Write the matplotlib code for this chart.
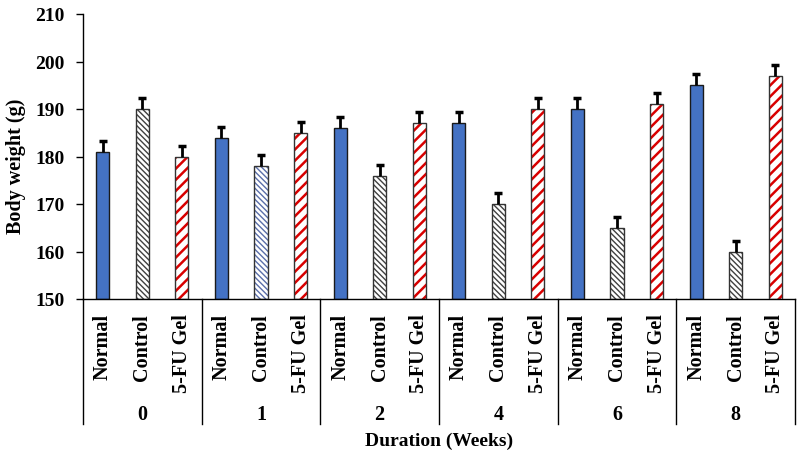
import numpy as np
import matplotlib
matplotlib.use("Agg")
import matplotlib.pyplot as plt
import matplotlib.transforms as mtransforms

# Data
weeks = ["0", "1", "2", "4", "6", "8"]
groups = ["Normal", "Control", "5-FU Gel"]
normal = [181, 184, 186, 187, 190, 195]
control = [190, 178, 176, 170, 165, 160]
fu_gel = [180, 185, 187, 190, 191, 197]
normal_err = [2.3, 2.3, 2.3, 2.3, 2.3, 2.3]
control_err = [2.3, 2.3, 2.3, 2.3, 2.3, 2.3]
fu_err = [2.3, 2.3, 2.3, 2.3, 2.3, 2.3]

plt.rcParams['font.family'] = ['Liberation Serif', 'DejaVu Serif']
plt.rcParams['font.weight'] = 'bold'

fig = plt.figure(figsize=(7.98, 4.6), dpi=100)
ax = fig.add_axes([83 / 798, 1 - 300 / 460, (795 - 83) / 798, (300 - 15) / 460])

n = len(weeks)
x_normal = np.arange(n) * 3
x_control = x_normal + 1
x_fu = x_normal + 2
w = 0.33

# Normal - solid blue
ax.bar(x_normal, np.array(normal) - 150, bottom=150, width=w,
       color='#4472C4', edgecolor='#1a1a1a', linewidth=1.0, zorder=2)

# Control - dense gray hatch
plt.rcParams['hatch.linewidth'] = 1.0
hatch_cols = ['#404040', '#5A6EAA', '#404040', '#404040', '#404040', '#404040']
for i in range(n):
    ax.bar(x_control[i], control[i] - 150, bottom=150, width=w, color='white',
           edgecolor=hatch_cols[i], hatch='\\\\\\\\\\\\', linewidth=0, zorder=2)
ax.bar(x_control, np.array(control) - 150, bottom=150, width=w, fill=False,
       edgecolor='#333333', linewidth=1.0, zorder=3)

# 5-FU gel - red stripes
plt.rcParams['hatch.linewidth'] = 1.8
ax.bar(x_fu, np.array(fu_gel) - 150, bottom=150, width=w, color='white',
       edgecolor='#D90000', hatch='///', linewidth=0, zorder=2)
ax.bar(x_fu, np.array(fu_gel) - 150, bottom=150, width=w, fill=False,
       edgecolor='#333333', linewidth=1.0, zorder=3)

# Error bars (upper only)
for xs, vals, errs in [(x_normal, normal, normal_err), (x_control, control, control_err),
                       (x_fu, fu_gel, fu_err)]:
    tops = np.array(vals) + np.array(errs)
    ax.vlines(xs, vals, tops, color='black', lw=2, zorder=4)
    ax.plot(xs, tops, linestyle='none', marker='_', markersize=6,
            markeredgewidth=2.5, color='black', zorder=4)

ax.set_ylim(150, 210)
ax.set_xlim(-0.5, 3 * n - 0.5)
ax.set_yticks(np.arange(150, 211, 10))
ax.tick_params(axis='y', labelsize=14, length=5, width=1, direction='out', pad=8)
for lab in ax.get_yticklabels():
    lab.set_fontweight('bold')

ax.set_xticks(np.arange(3 * n))
ax.set_xticklabels(groups * n, rotation=90, fontsize=14.5, fontweight='bold')
ax.tick_params(axis='x', length=0, pad=10)

ax.spines['top'].set_visible(False)
ax.spines['right'].set_visible(False)
ax.spines['left'].set_linewidth(1)
ax.spines['bottom'].set_linewidth(1)

# group separators and labels
trans = mtransforms.blended_transform_factory(ax.transData, ax.transAxes)
for b in np.arange(n + 1) * 3 - 0.5:
    ax.plot([b, b], [0, -(425 - 300) / 285], color='black', lw=1,
            transform=trans, clip_on=False)
for i, wk in enumerate(weeks):
    ax.text(3 * i + 1, -(415 - 300) / 285, wk, transform=trans, ha='center',
            va='center', fontsize=14.5, fontweight='bold')

ax.text(0.5, -(441 - 300) / 285, 'Duration (Weeks)', transform=ax.transAxes,
        ha='center', va='center', fontsize=14, fontweight='bold')
fig.text(16 / 798, 1 - 166 / 460, 'Body weight (g)', rotation=90, ha='center',
         va='center', fontsize=14.5, fontweight='bold')

fig.savefig('out.png', dpi=100)
